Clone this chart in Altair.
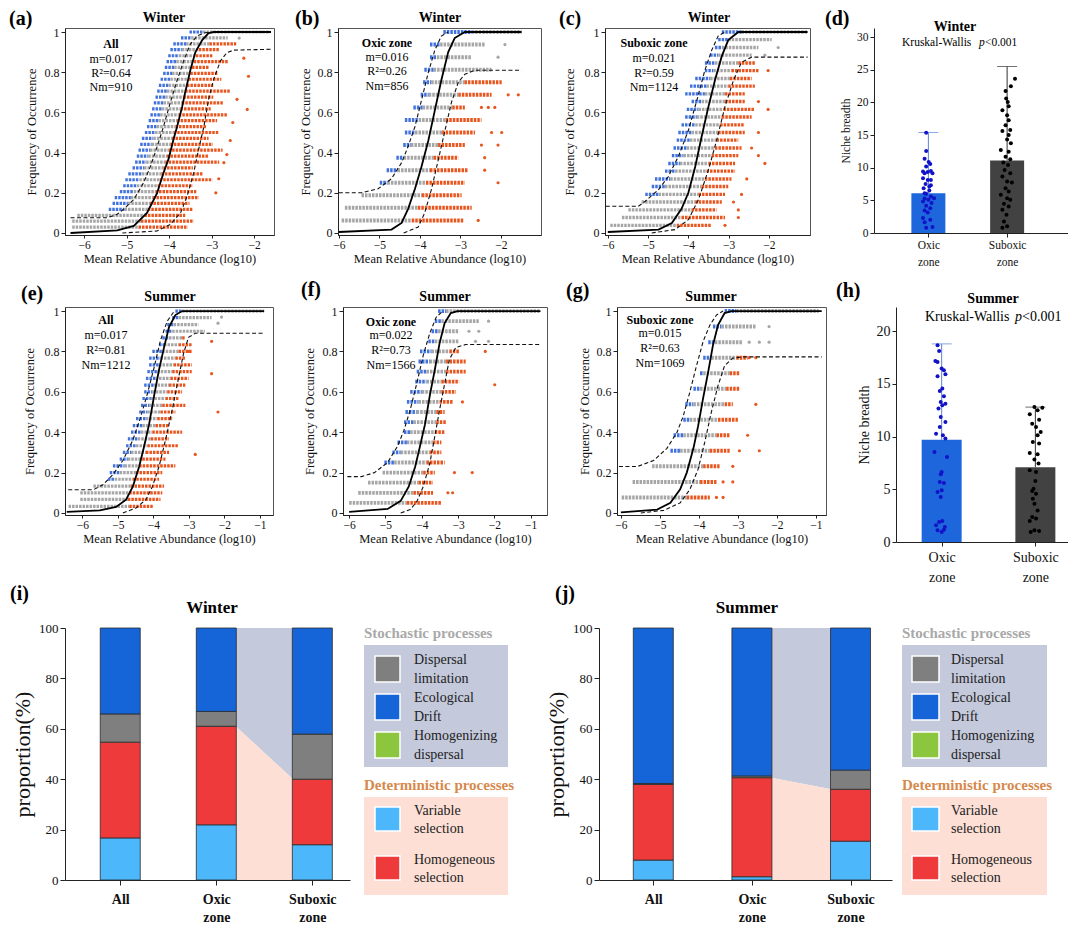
import altair as alt
import pandas as pd

FONT = "Liberation Serif"
C_GRAY = "#a6a6a6"
C_BLUE = "#4272dc"
C_ORANGE = "#e8561f"
CMAP = {"b": C_BLUE, "g": C_GRAY, "o": C_ORANGE}

# ---------------- scatter rows: (frequency, x_min, blue_end, orange_start, x_max) ----------------
A_ROWS = [
    (0.029, -6.28, -6.28, -4.72, -3.56), (0.059, -6.28, -6.28, -4.66, -3.42),
    (0.088, -6.16, -6.16, -4.58, -3.62), (0.118, -5.42, -5.05, -4.50, -3.45),
    (0.147, -5.33, -4.97, -4.45, -3.52), (0.176, -5.28, -4.90, -4.38, -3.30),
    (0.206, -5.16, -4.83, -4.32, -3.36), (0.235, -5.08, -4.76, -4.27, -3.44),
    (0.265, -5.03, -4.70, -4.22, -2.98), (0.294, -4.96, -4.64, -4.18, -3.20),
    (0.324, -4.86, -4.59, -4.13, -3.44), (0.353, -4.80, -4.54, -4.09, -2.82),
    (0.382, -4.76, -4.49, -4.05, -3.06), (0.412, -4.72, -4.45, -4.01, -2.74),
    (0.441, -4.68, -4.41, -3.97, -2.97), (0.471, -4.64, -4.37, -3.93, -3.07),
    (0.500, -4.57, -4.33, -3.89, -2.82), (0.529, -4.52, -4.29, -3.85, -3.12),
    (0.559, -4.48, -4.25, -3.81, -2.87), (0.588, -4.44, -4.21, -3.77, -2.64),
    (0.618, -4.40, -4.17, -3.73, -3.02), (0.647, -4.36, -4.13, -3.70, -2.72),
    (0.676, -4.32, -4.09, -3.66, -2.96), (0.706, -4.28, -4.05, -3.62, -2.57),
    (0.735, -4.24, -4.01, -3.58, -2.96), (0.765, -4.20, -3.97, -3.54, -2.77),
    (0.794, -4.14, -3.93, -3.50, -2.86), (0.824, -4.10, -3.88, -3.46, -3.06),
    (0.853, -4.06, -3.83, -3.42, -2.62), (0.882, -4.02, -3.77, -3.37, -2.96),
    (0.912, -3.97, -3.70, -3.30, -2.81), (0.941, -3.90, -3.60, -3.05, -2.42),
    (0.971, -3.72, -3.48, -2.62, -2.62), (1.000, -3.52, -3.20, -1.62, -1.62),
]
A_SOLID = [(-6.32, 0), (-5.22, 0.013), (-4.83, 0.035), (-4.52, 0.10), (-4.28, 0.20), (-4.13, 0.30),
           (-4.01, 0.37), (-3.89, 0.47), (-3.81, 0.53), (-3.69, 0.63), (-3.62, 0.70), (-3.50, 0.81),
           (-3.38, 0.90), (-3.22, 0.96), (-3.07, 0.995), (-2.95, 1.0), (-1.60, 1.0)]
A_UPPER = [(-6.32, 0.076), (-5.46, 0.076), (-5.22, 0.093), (-5.07, 0.118), (-4.83, 0.167), (-4.60, 0.25),
           (-4.44, 0.33), (-4.28, 0.43), (-4.13, 0.53), (-3.97, 0.65), (-3.81, 0.76), (-3.65, 0.86),
           (-3.50, 0.94), (-3.34, 0.98), (-3.18, 0.995), (-3.05, 1.0)]
A_LOWER = [(-5.10, 0.0), (-4.28, 0.01), (-3.97, 0.043), (-3.73, 0.10), (-3.58, 0.18), (-3.42, 0.30),
           (-3.30, 0.42), (-3.18, 0.53), (-3.07, 0.665), (-2.95, 0.765), (-2.79, 0.856), (-2.64, 0.897),
           (-2.48, 0.91), (-1.60, 0.914)]
A_OUT = [(-2.13, 0.78, "o"), (-2.24, 0.87, "o"), (-2.40, 0.665, "o"), (-2.16, 0.615, "o"), (-2.56, 0.46, "o"),
         (-2.64, 0.39, "o"), (-2.71, 0.35, "o"), (-2.83, 0.27, "o"), (-2.50, 0.55, "o"), (-2.90, 0.20, "o"),
         (-2.35, 0.97, "g")]

B_ROWS = [
    (0.0625, -5.93, -5.93, -4.20, -2.93), (0.125, -5.85, -5.85, -4.05, -2.72),
    (0.1875, -5.44, -5.44, -3.95, -2.97), (0.25, -4.99, -4.80, -3.85, -2.89),
    (0.3125, -4.82, -4.55, -3.75, -2.81), (0.375, -4.58, -4.40, -3.66, -3.05),
    (0.4375, -4.41, -4.22, -3.55, -2.89), (0.5, -4.37, -4.12, -3.45, -2.64),
    (0.5625, -4.37, -4.03, -3.36, -2.48), (0.625, -4.16, -3.93, -3.20, -2.89),
    (0.6875, -3.98, -3.78, -3.05, -2.23), (0.75, -3.92, -3.72, -2.90, -1.98),
    (0.8125, -3.89, -3.66, -2.23, -2.23), (0.875, -3.75, -3.58, -2.72, -2.72),
    (0.9375, -3.75, -3.50, -2.40, -2.40), (1.0, -3.42, -2.72, -1.49, -1.49),
]
B_SOLID = [(-6.0, 0.005), (-4.7, 0.017), (-4.45, 0.05), (-4.29, 0.12), (-4.12, 0.22), (-3.96, 0.33),
           (-3.79, 0.46), (-3.63, 0.61), (-3.47, 0.76), (-3.30, 0.90), (-3.14, 0.97), (-2.89, 1.0), (-1.49, 1.0)]
B_UPPER = [(-6.0, 0.20), (-5.44, 0.20), (-5.03, 0.22), (-4.70, 0.27), (-4.45, 0.35), (-4.29, 0.43),
           (-4.12, 0.53), (-3.96, 0.66), (-3.79, 0.80), (-3.63, 0.91), (-3.47, 0.98), (-3.30, 1.0)]
B_LOWER = [(-4.40, 0.0), (-4.04, 0.03), (-3.88, 0.10), (-3.71, 0.22), (-3.55, 0.36), (-3.38, 0.51),
           (-3.22, 0.65), (-3.05, 0.75), (-2.89, 0.79), (-2.64, 0.81), (-1.49, 0.81)]
B_OUT = [(-2.56, 0.0625, "o"), (-2.07, 0.25, "o"), (-2.40, 0.3125, "o"), (-2.40, 0.375, "o"), (-2.48, 0.4375, "o"),
         (-2.07, 0.4375, "o"), (-2.23, 0.5, "o"), (-1.98, 0.5, "o"), (-2.48, 0.625, "o"), (-2.31, 0.625, "o"),
         (-2.15, 0.625, "o"), (-1.82, 0.6875, "o"), (-1.57, 0.6875, "o"), (-1.90, 0.9375, "g"), (-2.07, 0.875, "g")]

C_ROWS = [
    (0.038, -5.94, -5.94, -4.29, -3.42), (0.077, -5.65, -5.65, -4.17, -3.09),
    (0.115, -5.49, -5.49, -3.92, -3.30), (0.154, -5.16, -5.16, -3.83, -3.17),
    (0.192, -5.07, -4.74, -3.75, -3.09), (0.231, -4.91, -4.58, -3.67, -3.01),
    (0.269, -4.83, -4.45, -3.59, -2.93), (0.308, -4.58, -4.33, -3.55, -2.84),
    (0.346, -4.50, -4.21, -3.50, -2.84), (0.385, -4.41, -4.12, -3.42, -2.76),
    (0.423, -4.37, -4.04, -3.34, -2.68), (0.462, -4.29, -3.96, -3.30, -2.76),
    (0.500, -4.25, -3.92, -3.26, -2.60), (0.538, -4.17, -3.83, -3.21, -2.60),
    (0.577, -4.08, -3.79, -3.17, -2.43), (0.615, -4.04, -3.75, -3.13, -2.35),
    (0.654, -3.92, -3.67, -3.09, -2.60), (0.692, -4.08, -3.59, -3.09, -2.60),
    (0.731, -3.96, -3.55, -3.01, -2.35), (0.769, -3.83, -3.46, -2.97, -2.43),
    (0.808, -3.59, -3.38, -2.93, -2.26), (0.846, -3.59, -3.34, -2.76, -2.35),
    (0.885, -3.46, -3.26, -2.43, -2.43), (0.923, -3.34, -3.17, -2.26, -2.26),
    (0.962, -3.26, -3.01, -1.93, -1.93), (1.000, -3.17, -2.68, -1.04, -1.04),
]
C_SOLID = [(-6.0, 0.005), (-4.74, 0.017), (-4.41, 0.05), (-4.17, 0.12), (-4.0, 0.2), (-3.83, 0.33),
           (-3.67, 0.48), (-3.5, 0.63), (-3.34, 0.76), (-3.17, 0.88), (-3.01, 0.96), (-2.76, 1.0), (-1.04, 1.0)]
C_UPPER = [(-6.05, 0.133), (-5.24, 0.133), (-5.07, 0.158), (-4.74, 0.216), (-4.5, 0.28), (-4.25, 0.38),
           (-4.0, 0.51), (-3.79, 0.66), (-3.59, 0.81), (-3.42, 0.91), (-3.26, 0.98), (-3.09, 1.0)]
C_LOWER = [(-4.91, 0.0), (-4.33, 0.017), (-4.0, 0.066), (-3.75, 0.166), (-3.5, 0.315), (-3.3, 0.46),
           (-3.09, 0.63), (-2.88, 0.76), (-2.68, 0.85), (-2.43, 0.875), (-1.04, 0.875)]
C_OUT = [(-3.09, 0.038, "o"), (-2.76, 0.077, "o"), (-2.76, 0.115, "o"), (-2.88, 0.154, "o"), (-2.68, 0.192, "o"),
         (-2.55, 0.269, "o"), (-2.10, 0.346, "o"), (-2.26, 0.385, "o"), (-2.43, 0.423, "o"), (-2.26, 0.5, "o"),
         (-2.02, 0.615, "o"), (-2.26, 0.654, "o"), (-2.02, 0.808, "o"), (-2.10, 0.885, "g"), (-1.77, 0.923, "g")]

E_ROWS = [
    (0.033, -6.39, -6.39, -4.68, -4.00), (0.067, -6.06, -6.06, -4.72, -3.80),
    (0.100, -6.06, -6.06, -4.68, -3.75), (0.133, -5.69, -5.69, -4.63, -3.70),
    (0.167, -5.28, -5.09, -4.58, -3.84), (0.200, -5.23, -4.95, -4.49, -3.75),
    (0.233, -5.14, -4.81, -4.40, -3.38), (0.267, -4.95, -4.72, -4.31, -3.66),
    (0.300, -4.86, -4.63, -4.21, -3.56), (0.333, -4.77, -4.49, -4.17, -3.29),
    (0.367, -4.72, -4.44, -4.07, -3.56), (0.400, -4.63, -4.35, -4.03, -3.19),
    (0.433, -4.58, -4.31, -3.94, -3.56), (0.467, -4.49, -4.21, -3.89, -3.47),
    (0.500, -4.40, -4.17, -3.80, -3.38), (0.533, -4.35, -4.12, -3.75, -3.10),
    (0.567, -4.31, -4.07, -3.66, -3.29), (0.600, -4.26, -4.03, -3.61, -3.19),
    (0.633, -4.26, -3.98, -3.56, -3.10), (0.667, -4.21, -3.94, -3.52, -3.01),
    (0.700, -4.17, -3.89, -3.47, -2.92), (0.733, -4.12, -3.84, -3.43, -2.92),
    (0.767, -4.12, -3.80, -3.38, -3.10), (0.800, -4.03, -3.75, -3.29, -2.92),
    (0.833, -3.84, -3.70, -3.29, -2.92), (0.867, -3.75, -3.56, -3.19, -3.10),
    (0.900, -3.66, -3.47, -2.55, -2.55), (0.933, -3.61, -3.43, -2.73, -2.73),
    (0.967, -3.47, -3.29, -2.36, -2.36), (1.000, -3.38, -3.19, -0.88, -0.88),
]
E_SOLID = [(-6.44, 0.005), (-5.51, 0.013), (-5.05, 0.03), (-4.77, 0.066), (-4.58, 0.13), (-4.40, 0.23),
           (-4.26, 0.33), (-4.12, 0.44), (-3.98, 0.58), (-3.84, 0.71), (-3.70, 0.82), (-3.56, 0.92),
           (-3.38, 0.98), (-3.19, 1.0), (-0.88, 1.0)]
E_UPPER = [(-6.40, 0.115), (-5.69, 0.115), (-5.42, 0.14), (-5.14, 0.19), (-4.86, 0.26), (-4.58, 0.36),
           (-4.35, 0.48), (-4.17, 0.59), (-3.98, 0.72), (-3.80, 0.855), (-3.61, 0.95), (-3.43, 0.995)]
E_LOWER = [(-4.86, 0.0), (-4.49, 0.025), (-4.21, 0.066), (-4.03, 0.13), (-3.84, 0.23), (-3.66, 0.36),
           (-3.47, 0.51), (-3.29, 0.67), (-3.15, 0.79), (-3.01, 0.87), (-2.82, 0.89), (-0.88, 0.89)]
E_OUT = [(-2.18, 0.50, "o"), (-2.82, 0.29, "o"), (-2.36, 0.69, "o"), (-2.36, 0.85, "o"), (-3.00, 0.80, "o"),
         (-2.18, 0.94, "g"), (-2.08, 0.97, "g")]

F_ROWS = [
    (0.05, -6.00, -6.00, -4.41, -3.46), (0.10, -5.75, -5.75, -4.23, -3.69),
    (0.15, -5.48, -5.48, -4.09, -3.69), (0.20, -5.08, -5.08, -3.96, -3.64),
    (0.25, -5.03, -4.76, -3.87, -3.37), (0.30, -4.81, -4.58, -3.78, -3.46),
    (0.35, -4.67, -4.41, -3.69, -3.46), (0.40, -4.49, -4.32, -3.64, -3.37),
    (0.45, -4.49, -4.23, -3.60, -3.33), (0.50, -4.45, -4.14, -3.60, -3.37),
    (0.55, -4.41, -4.09, -3.51, -3.15), (0.60, -4.32, -4.00, -3.46, -3.06),
    (0.65, -4.18, -3.87, -3.46, -2.97), (0.70, -4.14, -3.87, -3.33, -2.79),
    (0.75, -4.09, -3.78, -3.33, -2.79), (0.80, -4.05, -3.73, -3.24, -2.97),
    (0.85, -3.82, -3.64, -2.97, -2.97), (0.90, -3.73, -3.55, -2.97, -2.97),
    (0.95, -3.64, -3.46, -2.43, -2.43), (1.00, -3.55, -3.33, -0.73, -0.73),
]
F_SOLID = [(-6.0, 0.005), (-4.94, 0.02), (-4.58, 0.06), (-4.36, 0.13), (-4.18, 0.23), (-4.05, 0.33),
           (-3.91, 0.44), (-3.78, 0.58), (-3.64, 0.71), (-3.51, 0.84), (-3.37, 0.94), (-3.20, 0.99),
           (-3.02, 1.0), (-0.73, 1.0)]
F_UPPER = [(-6.05, 0.18), (-5.66, 0.18), (-5.30, 0.20), (-4.94, 0.25), (-4.67, 0.33), (-4.49, 0.41),
           (-4.32, 0.51), (-4.14, 0.64), (-3.96, 0.78), (-3.78, 0.89), (-3.60, 0.97), (-3.42, 1.0)]
F_LOWER = [(-4.58, 0.0), (-4.32, 0.017), (-4.14, 0.055), (-3.96, 0.13), (-3.78, 0.245), (-3.64, 0.38),
           (-3.51, 0.51), (-3.37, 0.64), (-3.24, 0.76), (-3.06, 0.82), (-2.79, 0.834), (-0.73, 0.834)]
F_OUT = [(-3.28, 0.10, "o"), (-3.15, 0.10, "o"), (-3.10, 0.20, "o"), (-2.61, 0.20, "o"), (-2.88, 0.55, "o"),
         (-2.25, 0.80, "o"), (-1.99, 0.635, "o"), (-2.16, 0.85, "g"), (-2.52, 0.85, "g"), (-2.43, 0.90, "g"),
         (-2.70, 0.90, "g"), (-2.16, 0.95, "g")]

G_ROWS = [
    (0.077, -5.98, -5.98, -4.31, -3.72), (0.154, -5.70, -5.70, -3.97, -3.55),
    (0.231, -5.20, -5.20, -3.89, -3.47), (0.308, -4.73, -4.48, -3.72, -3.21),
    (0.385, -4.65, -4.40, -3.55, -3.21), (0.462, -4.40, -4.23, -3.51, -3.00),
    (0.538, -4.35, -4.14, -3.34, -3.13), (0.615, -4.14, -3.97, -3.30, -2.96),
    (0.692, -3.97, -3.89, -3.21, -2.96), (0.769, -3.89, -3.68, -3.04, -2.75),
    (0.846, -3.76, -3.59, -2.87, -2.87), (0.923, -3.64, -3.42, -2.54, -2.54),
    (1.000, -3.34, -3.04, -0.93, -0.93),
]
G_SOLID = [(-6.0, 0.003), (-5.07, 0.017), (-4.73, 0.05), (-4.48, 0.117), (-4.31, 0.20), (-4.14, 0.32),
           (-4.02, 0.43), (-3.89, 0.57), (-3.76, 0.70), (-3.64, 0.83), (-3.51, 0.93), (-3.34, 0.99),
           (-3.17, 1.0), (-0.85, 1.0)]
G_UPPER = [(-6.05, 0.23), (-5.58, 0.23), (-5.16, 0.26), (-4.82, 0.32), (-4.56, 0.40), (-4.40, 0.48),
           (-4.23, 0.60), (-4.06, 0.73), (-3.89, 0.85), (-3.72, 0.93), (-3.55, 0.98), (-3.38, 1.0)]
G_LOWER = [(-5.49, 0.0), (-4.90, 0.013), (-4.48, 0.05), (-4.23, 0.117), (-4.02, 0.217), (-3.85, 0.35),
           (-3.68, 0.50), (-3.51, 0.63), (-3.34, 0.73), (-3.13, 0.767), (-2.87, 0.773), (-0.85, 0.773)]
G_OUT = [(-3.55, 0.077, "o"), (-3.38, 0.077, "o"), (-3.38, 0.154, "o"), (-3.13, 0.154, "o"), (-3.13, 0.231, "o"),
         (-2.96, 0.308, "o"), (-2.45, 0.308, "o"), (-2.75, 0.385, "o"), (-2.54, 0.538, "o"), (-2.71, 0.769, "o"),
         (-2.54, 0.769, "o"), (-2.71, 0.846, "g"), (-2.45, 0.846, "g"), (-2.20, 0.846, "g"), (-2.20, 0.923, "g")]

# ---------------- niche breadth (d, h) ----------------
NICHE_CATS = [1, 2]
D_MEAN = [6.1, 11.1]
D_MAX = [15.4, 25.5]
D_OXIC = [15.35, 12.56, 11.39, 10.88, 10.57, 9.41, 9.15, 9.35, 9.51, 9.15, 8.39, 8.13, 7.52, 7.32, 6.86, 6.51,
          6.0, 5.59, 5.29, 5.08, 4.83, 4.58, 4.17, 3.81, 3.46, 3.15, 2.29, 2.03, 1.63, 0.92, 0.81, 7.12, 5.34,
          6.1, 8.13, 10.17]
D_OXIC_JIT = [-0.028, -0.028, -0.048, 0.004, 0.024, -0.068, -0.048, -0.008, 0.032, 0.052, -0.068, -0.008, -0.036,
              0.032, -0.06, 0.012, -0.028, 0.032, -0.048, 0.0, -0.068, 0.04, -0.028, 0.024, -0.048, -0.008, -0.068,
              0.024, -0.048, 0.052, -0.028, 0.012, 0.072, -0.048, 0.032, -0.028]
D_SUB = [23.64, 22.47, 21.76, 20.59, 20.08, 19.42, 18.81, 18.05, 17.28, 16.52, 15.76, 15.61, 15.0, 14.34, 13.73,
         12.71, 12.46, 11.69, 11.29, 10.78, 10.42, 9.66, 9.15, 8.64, 7.88, 7.73, 6.86, 6.36, 5.85, 5.34, 5.08,
         4.47, 4.07, 3.56, 2.8, 1.78, 1.02, 0.81]
D_SUB_JIT = [0.1, 0.048, -0.02, -0.012, 0.008, 0.02, -0.06, 0.0, 0.02, -0.02, 0.04, -0.06, 0.02, 0.0, 0.048, -0.08,
             0.02, -0.02, 0.04, -0.048, 0.012, -0.032, 0.04, -0.06, 0.0, 0.06, -0.02, 0.02, -0.08, 0.0, 0.04, -0.04,
             0.02, -0.06, -0.008, -0.04, 0.0, -0.06]
H_MEAN = [9.7, 7.1]
H_MAX = [18.8, 12.8]
H_OXIC = [18.67, 18.13, 17.18, 17.09, 16.46, 16.3, 15.73, 15.92, 14.56, 14.34, 13.83, 13.29, 13.13, 12.97, 12.66,
          11.87, 11.39, 10.92, 10.28, 10.13, 9.81, 8.54, 8.07, 6.65, 6.42, 5.7, 5.6, 4.91, 4.75, 4.27, 1.9, 1.99,
          1.58, 1.42, 1.11, 0.95, 1.17]
H_OXIC_JIT = [-0.044, -0.027, -0.067, -0.044, 0.0, 0.024, -0.044, 0.04, 0.007, -0.02, 0.024, -0.01, 0.04, 0.007,
              -0.034, -0.01, 0.04, -0.02, -0.06, 0.013, 0.04, -0.077, 0.057, 0.0, -0.01, -0.02, 0.024, 0.0, -0.044,
              -0.01, -0.027, 0.007, -0.06, 0.034, -0.044, 0.0, 0.024]
H_SUB = [12.75, 12.82, 12.5, 12.12, 11.61, 11.23, 10.92, 10.44, 10.13, 9.49, 9.34, 8.45, 8.32, 7.82, 7.44, 6.8,
         6.65, 5.79, 5.06, 4.84, 4.59, 4.11, 3.64, 3.0, 2.37, 2.22, 1.99, 1.11, 1.04, 0.95]
H_SUB_JIT = [0.074, -0.01, 0.024, -0.06, 0.04, -0.034, 0.007, 0.057, 0.024, -0.027, 0.04, -0.06, 0.024, -0.01, 0.034,
             -0.06, 0.007, 0.0, -0.02, -0.034, 0.007, -0.027, -0.01, 0.024, -0.034, 0.007, -0.06, -0.01, 0.04, -0.05]

# ---------------- assembly processes (i, j) ----------------
PROC_NAMES = ["Variable selection", "Homogeneous selection", "Homogenizing dispersal", "Dispersal limitation",
              "Ecological Drift"]
PROC_COLORS = ["#4cb8fb", "#ef3a3b", "#8cc63f", "#7f7f7f", "#1565d9"]
GROUPS = [1, 2, 3]
W_VALUES = [[16.7, 38.0, 0.0, 11.2, 34.1], [21.9, 39.1, 0.0, 5.9, 33.1], [14.0, 26.0, 0.0, 17.9, 42.1]]
S_VALUES = [[7.9, 30.0, 0.0, 0.4, 61.7], [1.3, 39.3, 0.0, 0.7, 58.7], [15.4, 20.6, 0.0, 7.6, 56.4]]
STOCH_BOX = "#c4c9db"
DET_BOX = "#fddfd5"
STOCH_LABELS = [["Dispersal", "limitation"], ["Ecological", "Drift"], ["Homogenizing", "dispersal"]]
STOCH_COLORS = ["#7f7f7f", "#1565d9", "#8cc63f"]
DET_LABELS = [["Variable", "selection"], ["Homogeneous", "selection"]]
DET_COLORS = ["#4cb8fb", "#ef3a3b"]


def vtext(s, x, y, size=12, weight="normal", align="center", color="black", italic=False):
    return alt.Chart(pd.DataFrame({"t": [s]})).mark_text(
        font=FONT, fontSize=size, fontWeight=weight, align=align, baseline="middle", color=color,
        fontStyle="italic" if italic else "normal"
    ).encode(text="t:N", x=alt.value(x), y=alt.value(y))


def spacer_layer(y):
    return alt.Chart(pd.DataFrame({"t": [0]})).mark_rule(opacity=0, strokeOpacity=0).encode(
        x=alt.value(0), x2=alt.value(1), y=alt.value(y - 6), y2=alt.value(y))


def scatter_panel(rows, solid, upper, lower, outl, xdom, xticks, w, h, sw, title, title_x, label, label_x,
                  label_y, lines, text_x, text_ys, ytpad, spacer=None):
    xs = alt.Scale(domain=xdom, nice=False, zero=False)
    ys = alt.Scale(domain=[-0.01, 1.02], nice=False, zero=False)
    xa = alt.Axis(values=xticks, title="Mean Relative Abundance (log10)", grid=False, tickSize=3,
                  labelFontSize=11.5, titleFontSize=12.5, labelPadding=1, titlePadding=2, labelFlush=False)
    ya = alt.Axis(values=[0, 0.2, 0.4, 0.6, 0.8, 1], format="~g", title="Frequency of Occurrence", grid=False,
                  tickSize=4, labelFontSize=12, titleFontSize=12.5, labelPadding=2, titlePadding=ytpad)
    X = alt.X("x:Q", scale=xs, axis=xa)
    Y = alt.Y("y:Q", scale=ys, axis=ya)
    segs = []
    for f, x0, xb, xo, x1 in rows:
        if xb > x0:
            segs.append({"x": x0, "x2": xb, "y": f, "c": C_BLUE})
        if xo > xb:
            segs.append({"x": xb, "x2": xo, "y": f, "c": C_GRAY})
        if x1 > xo:
            segs.append({"x": xo, "x2": x1, "y": f, "c": C_ORANGE})
    seg_df = pd.DataFrame(segs)
    layers = [alt.Chart(seg_df).mark_rule(strokeWidth=sw, strokeDash=[2.5, 1]).encode(
        x=X, x2="x2:Q", y=Y, color=alt.Color("c:N", scale=None))]
    out_df = pd.DataFrame(outl, columns=["x", "y", "k"])
    out_df["c"] = out_df["k"].map(CMAP)
    layers.append(alt.Chart(out_df).mark_circle(size=10, opacity=1).encode(
        x=X, y=Y, color=alt.Color("c:N", scale=None)))
    cur = []
    for name, pts in (("upper", upper), ("lower", lower)):
        for i, (x, y) in enumerate(pts):
            cur.append({"x": x, "y": y, "k": name, "o": i})
    cur_df = pd.DataFrame(cur)
    sol_df = pd.DataFrame([{"x": x, "y": y, "o": i} for i, (x, y) in enumerate(solid)])
    layers.append(alt.Chart(cur_df).mark_line(color="#111111", strokeWidth=1.1, strokeDash=[4, 2.5]).encode(
        x=X, y=Y, detail="k:N", order="o:Q"))
    layers.append(alt.Chart(sol_df).mark_line(color="black", strokeWidth=1.8).encode(x=X, y=Y, order="o:Q"))
    for i, (s, yy) in enumerate(zip(lines, text_ys)):
        layers.append(vtext(s, text_x, yy, size=12, weight="bold" if i == 0 else "normal"))
    layers.append(vtext(title, title_x, -10, size=14, weight="bold"))
    layers.append(vtext(label, label_x, label_y, size=20, weight="bold", align="left"))
    if spacer is not None:
        layers.append(spacer_layer(spacer))
    return alt.layer(*layers).properties(width=w, height=h,
                                          view=alt.ViewBackground(stroke="#555555", strokeWidth=1))


def niche_panel(means, maxes, o_vals, o_jit, s_vals, s_jit, xdom, ymax, yticks, w, h, bar_px, fs, lab_lh,
                lab_pad, ytpad, title, title_x, title_y, kw_x, p_x, v_x, kw_y, label, label_x, label_y,
                spacer=None):
    xs = alt.Scale(domain=xdom, nice=False, zero=False)
    ys = alt.Scale(domain=[0, ymax], nice=False, zero=False)
    xa = alt.Axis(values=NICHE_CATS, title=None, grid=False, tickSize=4, labelFontSize=fs, labelPadding=lab_pad,
                  labelLineHeight=lab_lh,
                  labelExpr="datum.value == 1 ? ['Oxic', 'zone'] : (datum.value == 2 ? ['Suboxic', 'zone'] : '')")
    ya = alt.Axis(values=yticks, title="Niche breadth", grid=False, tickSize=4, labelFontSize=fs,
                  titleFontSize=fs, labelPadding=2, titlePadding=ytpad)
    X = alt.X("x:Q", scale=xs, axis=xa)
    Y = alt.Y("y:Q", scale=ys, axis=ya)
    bar_df = pd.DataFrame({"x": NICHE_CATS, "y": means, "y2": maxes,
                           "c": ["#1e66dc", "#424242"], "e": ["#5b80d6", "#333333"]})
    pts = pd.DataFrame({"x": [NICHE_CATS[0] + j for j in o_jit] + [NICHE_CATS[1] + j for j in s_jit],
                        "y": list(o_vals) + list(s_vals),
                        "c": ["#1212c8"] * len(o_vals) + ["#000000"] * len(s_vals)})
    layers = [
        alt.Chart(bar_df).mark_rule(strokeWidth=1).encode(x=X, y=Y, y2="y2:Q", color=alt.Color("e:N", scale=None)),
        alt.Chart(bar_df).mark_tick(orient="horizontal", size=20, thickness=1).encode(
            x=X, y=alt.Y("y2:Q", scale=ys, axis=ya), color=alt.Color("e:N", scale=None)),
        alt.Chart(bar_df).mark_bar(size=bar_px, orient="vertical").encode(
            x=X, y=Y, color=alt.Color("c:N", scale=None)),
        alt.Chart(pts).mark_circle(size=16, opacity=1).encode(x=X, y=Y, color=alt.Color("c:N", scale=None)),
        vtext(title, title_x, title_y, size=14, weight="bold"),
        vtext("Kruskal-Wallis", kw_x, kw_y, size=fs, align="left"),
        vtext("p", p_x, kw_y, size=fs, align="left", italic=True),
        vtext("<0.001", v_x, kw_y, size=fs, align="left"),
        vtext(label, label_x, label_y, size=20, weight="bold", align="left"),
    ]
    if spacer is not None:
        layers.append(spacer_layer(spacer))
    return alt.layer(*layers).properties(width=w, height=h)


def process_panel(values, xdom, w, h, title, title_x, label, label_x):
    xs = alt.Scale(domain=xdom, nice=False, zero=False)
    ys = alt.Scale(domain=[0, 100], nice=False, zero=False)
    xa = alt.Axis(values=GROUPS, title=None, grid=False, tickSize=5, labelFontSize=14, labelFontWeight="bold",
                  labelPadding=7, labelLineHeight=18,
                  labelExpr="datum.value == 1 ? 'All' : (datum.value == 2 ? ['Oxic', 'zone'] : ['Suboxic', 'zone'])")
    ya = alt.Axis(values=[0, 20, 40, 60, 80, 100], title="proportion(%)", grid=False, tickSize=5,
                  labelFontSize=13, titleFontSize=22, labelPadding=2, titlePadding=4)
    X = alt.X("x:Q", scale=xs, axis=xa)
    Y = alt.Y("y:Q", scale=ys, axis=ya)
    recs = []
    for g, vals in zip(GROUPS, values):
        lo = 0.0
        for name, col, v in zip(PROC_NAMES, PROC_COLORS, vals):
            if v > 0:
                recs.append({"x": g, "y": lo, "y2": lo + v, "c": col})
            lo += v
    bars = pd.DataFrame(recs)
    half = 20.0 * (xdom[1] - xdom[0]) / w
    mid_oxic = values[1][0] + values[1][1]
    mid_sub = values[2][0] + values[2][1]
    shade = pd.DataFrame({"x": [GROUPS[1] + half, GROUPS[2] - half], "mid": [mid_oxic, mid_sub],
                          "top": [100, 100], "bot": [0, 0]})
    layers = [
        alt.Chart(shade).mark_area(color=STOCH_BOX, orient="vertical").encode(
            x=X, y=alt.Y("mid:Q", scale=ys, axis=ya), y2="top:Q"),
        alt.Chart(shade).mark_area(color=DET_BOX, orient="vertical").encode(
            x=X, y=alt.Y("bot:Q", scale=ys, axis=ya), y2="mid:Q"),
        alt.Chart(bars).mark_bar(size=40, orient="vertical", stroke="#2a2a2a", strokeWidth=0.8).encode(
            x=X, y=Y, y2="y2:Q", color=alt.Color("c:N", scale=None)),
        vtext(title, title_x, -20, size=17, weight="bold"),
        vtext(label, label_x, -34, size=20, weight="bold", align="left"),
    ]
    return alt.layer(*layers).properties(width=w, height=h)


def legend_panel(W, H, box_x0, box_x1, sw_x0, sw_x1, lab_x):
    xs = alt.Scale(domain=[0, W], nice=False, zero=False)
    ys = alt.Scale(domain=[0, H], nice=False, zero=False, reverse=True)
    X = alt.X("x:Q", scale=xs, axis=None)
    Y = alt.Y("y:Q", scale=ys, axis=None)
    boxes = pd.DataFrame({"x": [box_x0, box_x0], "x2": [box_x1, box_x1], "y": [17, 169], "y2": [139, 267],
                          "c": [STOCH_BOX, DET_BOX]})
    sw, txt = [], []
    for i, (lab, col) in enumerate(zip(STOCH_LABELS, STOCH_COLORS)):
        top = 28 + 38 * i
        sw.append({"x": sw_x0, "x2": sw_x1, "y": top, "y2": top + 26, "c": col})
        txt.append({"x": lab_x, "y": top + 4, "t": lab[0]})
        txt.append({"x": lab_x, "y": top + 23, "t": lab[1]})
    for i, (lab, col) in enumerate(zip(DET_LABELS, DET_COLORS)):
        top = 179 + 49 * i
        sw.append({"x": sw_x0, "x2": sw_x1, "y": top, "y2": top + 24, "c": col})
        txt.append({"x": lab_x, "y": top + 4, "t": lab[0]})
        txt.append({"x": lab_x, "y": top + 22, "t": lab[1]})
    heads = pd.DataFrame({"x": [box_x0, box_x0], "y": [5, 157],
                          "t": ["Stochastic processes", "Deterministic processes"],
                          "c": ["#a9a9a9", "#d6894c"]})
    layers = [
        alt.Chart(boxes).mark_rect().encode(x=X, x2="x2:Q", y=Y, y2="y2:Q", color=alt.Color("c:N", scale=None)),
        alt.Chart(pd.DataFrame(sw)).mark_rect(stroke="white", strokeWidth=1.5).encode(
            x=X, x2="x2:Q", y=Y, y2="y2:Q", color=alt.Color("c:N", scale=None)),
        alt.Chart(pd.DataFrame(txt)).mark_text(font=FONT, fontSize=14, align="left", baseline="middle",
                                               color="#222222").encode(x=X, y=Y, text="t:N"),
        alt.Chart(heads).mark_text(font=FONT, fontSize=15, fontWeight="bold", align="left",
                                   baseline="middle").encode(x=X, y=Y, text="t:N",
                                                             color=alt.Color("c:N", scale=None)),
    ]
    return alt.layer(*layers).properties(width=W, height=H)


pa = scatter_panel(A_ROWS, A_SOLID, A_UPPER, A_LOWER, A_OUT, [-6.45, -1.53], [-6, -5, -4, -3, -2], 209, 207, 3.2,
                   "Winter", 99, "(a)", -56, -9, ["All", "m=0.017", "R²=0.64", "Nm=910"], 46, [16, 31, 45, 59],
                   6, spacer=261)
pb = scatter_panel(B_ROWS, B_SOLID, B_UPPER, B_LOWER, B_OUT, [-6.02, -1.01], [-6, -5, -4, -3, -2], 203, 207, 4,
                   "Winter", 102, "(b)", -43, -9, ["Oxic zone", "m=0.016", "R²=0.26", "Nm=856"], 49,
                   [15, 29, 43, 58], 5)
pc = scatter_panel(C_ROWS, C_SOLID, C_UPPER, C_LOWER, C_OUT, [-6.07, -0.98], [-6, -5, -4, -3, -2], 205, 207, 3.4,
                   "Winter", 104, "(c)", -46, -9, ["Suboxic zone", "m=0.021", "R²=0.59", "Nm=1124"], 49,
                   [15, 30, 45, 59], 8)
pd_ = niche_panel(D_MEAN, D_MAX, D_OXIC, D_OXIC_JIT, D_SUB, D_SUB_JIT, [0.373, 2.735], 31.4,
                  [0, 5, 10, 15, 20, 25, 30], 196, 205, 34, 11.5, 17, 2, 5, "Winter", 81, -1, 28, 105, 111, 15,
                  "(d)", -49, -9)

pe = scatter_panel(E_ROWS, E_SOLID, E_UPPER, E_LOWER, E_OUT, [-6.49, -0.63], [-6, -5, -4, -3, -2, -1], 208, 208,
                   3.2, "Summer", 105, "(e)", -44, -13, ["All", "m=0.017", "R²=0.81", "Nm=1212"], 41,
                   [13, 28, 43, 58], 8)
pf = scatter_panel(F_ROWS, F_SOLID, F_UPPER, F_LOWER, F_OUT, [-6.17, -0.55], [-6, -5, -4, -3, -2, -1], 204, 208,
                   3.8, "Summer", 102, "(f)", -42, -17, ["Oxic zone", "m=0.022", "R²=0.73", "Nm=1566"], 48,
                   [15, 28, 43, 58], 6)
pg = scatter_panel(G_ROWS, G_SOLID, G_UPPER, G_LOWER, G_OUT, [-6.1, -0.74], [-6, -5, -4, -3, -2, -1], 209, 208,
                   4, "Summer", 94, "(g)", -51, -16, ["Suboxic zone", "m=0.015", "R²=0.63", "Nm=1069"], 43,
                   [13, 26, 41, 56], 5)
ph = niche_panel(H_MEAN, H_MAX, H_OXIC, H_OXIC_JIT, H_SUB, H_SUB_JIT, [0.566, 2.455], 22.3,
                 [0, 5, 10, 15, 20], 187, 235, 40, 14, 20, 4, 5, "Summer", 97, -8, 29, 119, 126, 10,
                 "(h)", -60, -16, spacer=286)

pi = process_panel(W_VALUES, [0.477, 3.34], 285, 252, "Winter", 147, "(i)", -55)
li = legend_panel(249, 252, 14, 158, 25, 50, 64)
pj = process_panel(S_VALUES, [0.5, 3.37], 293, 252, "Summer", 148, "(j)", -44)
lj = legend_panel(180, 252, 10, 155, 20, 47, 59)

row1 = alt.hconcat(pa, pb, pc, pd_, spacing=64, bounds="flush")
row2 = alt.hconcat(pe, pf, pg, ph, spacing=70, bounds="flush")
row3 = alt.hconcat(pi, li, pj, lj, spacing=0, bounds="flush")

chart = alt.vconcat(row1, row2, row3, spacing=-11).properties(
    padding={"left": 0, "top": 0, "right": -16, "bottom": 0}
).configure(
    font=FONT
).configure_view(stroke="transparent").configure_axis(
    labelFont=FONT, titleFont=FONT, titleFontWeight="normal", labelColor="#111111", titleColor="#111111",
    domainColor="#222222", tickColor="#222222", grid=False
).configure_text(font=FONT)

chart.save("out.html", embed_options={"renderer": "svg", "actions": False})
